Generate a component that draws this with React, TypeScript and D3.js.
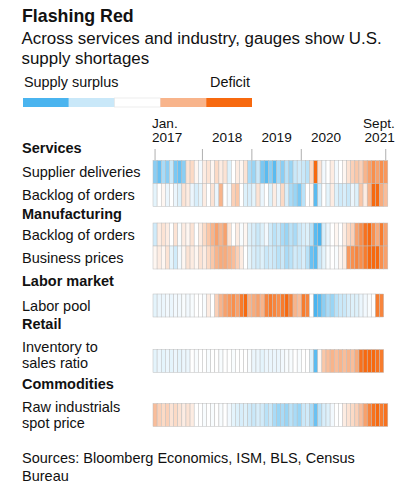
import React, { useEffect, useRef } from "react";
import * as d3 from "d3";

// monthly readings, Jan 2017 .. Sept 2021 (labor pool and inventories end Aug 2021)
const supplierDeliveries = [
  -1.2, -1.4, -1.0, -1.2, -0.8, -1.3, -1.4, -1.2,
  0.3, 0.4, 0.1, -0.2, 0.2, 0.3, 0.1, 0.4, 0.2, 0.3,
  -0.5, 0, 0.2, 0.1, 0.3,
  -1.0, -1.1, -0.8, -1.3, -1.5, -1.2, -1.5, -1.0, -1.2, -0.9, -1.1, -0.8, -0.7, -0.8, -0.9,
  0.4, 2.0,
  0.3, -0.2, 0, 0.2, -0.2, 0, 0.1,
  0.3, 0.5, 0.6, 0.5, 0.8, 1.0, 1.2, 1.0, 1.2, 1.1,
];
const servicesBacklog = [
  -0.4, 0, 0.1, -0.3, 0, -0.3, -0.5, 0.3, 0.2, -0.3, -0.6, -0.4, 0.2, 0, 0.3, -0.3, 0.8,
  0, -0.2, 0.5, 0.6, 0, -0.5, -0.6, -0.4, 0.3, -0.3, 0, -0.5, 0.2, -0.3, 0.4, -0.6,
  -1.0, -1.1, -1.3, -0.9, 0, 0.1, -1.5, -0.6, 0, -0.4, 0.2, -0.5, -0.7, -0.6, -0.8,
  -0.3, -0.5, 0.6, 0.2, 0.8, 1.8, 1.6, 0.9, 0.7,
];
const mfgBacklog = [
  -0.7, 0.2, 0.3, 0.2, 0, 0.3, -0.1, 0.2, 0.1, 0.3, 0, 0.2, 0.4, 0.6, 0.8, 1.0, 0.8, 1.0,
  0.3, 0, 0.2, -0.1, 0.1, -0.5, -0.6, -0.8, -0.5, -0.2, -0.7, -0.9, -0.8, -1.0, -1.1,
  -0.9, -1.0, -0.8, -0.6, -0.5, -0.9, -1.5, -1.6, -0.6, -0.3, 0, 0.1, 0, 0.2, 0.4, 0.5,
  1.0, 1.2, 1.5, 1.8, 1.2, 0.9, 1.4, 1.0,
];
const businessPrices = [
  0.1, 0.2, 0.1, 0.3, -0.4, -0.7, -0.2, 0.1, 0.3, 0.2, 0.1, 0.3, 0.2, 0.4, 0.6, 0.8, 0.9,
  0.9, 0.8, 0.7, 0.5, 0.2, 0, -0.4, -0.6, -0.7, -0.5, -0.8, -0.7, -0.8, -0.9, -0.8, -1.0,
  -0.9, -0.7, -0.8, -0.6, -0.9, -1.4, -1.5, -0.8, -0.4, -0.1, 0, -0.1, 0.1, 0.2, 1.1, 1.2,
  1.3, 1.2, 1.4, 1.6, 1.7, 1.6, 1.2, 1.0,
];
const laborPool = [
  -0.4, -0.3, -0.3, -0.2, -0.3, -0.2, -0.2, -0.1, -0.2, -0.1, 0, 0, -0.1, 0.2, 0, 0.5,
  0.8, 1.0, 1.1, 1.2, 1.0, 1.4, 1.8, 0.8, 0.9, 1.0, 0.8, 1.3, 1.4, 1.3, 1.2, 1.4, 1.6,
  1.3, 0.8, 0.7, 1.4, 1.3, 0, -1.7, -1.5, -1.2, -1.0, -1.1, -0.9, -0.8, -0.8, -0.6, -0.5,
  -0.5, -0.3, -0.2, -0.1, 0, 1.4, 1.3,
];
const inventorySales = [
  -0.4, -0.3, -0.4, -0.3, -0.4, -0.3, -0.4, -0.3, -0.3,
  0, -0.1, 0, 0, -0.1, 0, 0, -0.1, 0, 0, -0.1, 0, 0, 0, -0.1,
  -0.3, -0.3, -0.4, -0.3, -0.3, -0.3, -0.3, -0.2, -0.1, -0.1, 0, -0.1, 0, 0,
  -0.5, -1.5, 0.1,
  0.6, 0.7, 0.8, 0.7, 0.8, 0.7, 0.8, 0.7, 0.9,
  1.5, 1.6, 1.7, 1.6, 1.5, 1.4,
];
const rawIndustrials = [
  0.7, 0.5, 0.4, 0.5, 0.3, 0.4, 0.3, 0.2, 0.3, 0.2, 0, 0, -0.1, 0, -0.1, 0, -0.1, 0, -0.2,
  -0.4, -0.5, -0.6, -0.5, -0.7, -0.8, -0.6, -0.7, -0.9, -0.8, -1.0, -1.1, -1.0, -1.1,
  -0.9, -1.0, -1.1, -0.8, -0.7, -1.0, -1.4, -0.9, -0.6, -0.5, -0.2, 0, 0, 0.2, 0.3, 0.4,
  0.5, 0.7, 1.0, 1.3, 1.5, 1.6, 1.4, 1.5,
];

const legendColors = ["#4ab4ef", "#c9e8f9", "#ffffff", "#f8b48b", "#f7690f"];
const legendStops = [-1.6, -0.8, 0, 0.8, 1.6];

const months = d3.timeMonths(new Date(2017, 0, 1), new Date(2021, 9, 1));
const yearTicks = [
  { m: 0, lines: ["Jan.", "2017"], align: "start" },
  { m: 12, lines: ["2018"], align: "middle" },
  { m: 24, lines: ["2019"], align: "middle" },
  { m: 36, lines: ["2020"], align: "middle" },
  { m: 56, lines: ["Sept.", "2021"], align: "end" },
];

const sections = [
  {
    title: "Services",
    titleY: 153,
    rows: [
      { label: ["Supplier deliveries"], values: supplierDeliveries, top: 160.5, shift: 0 },
      { label: ["Backlog of orders"], values: servicesBacklog, top: 183.5, shift: 0 },
    ],
  },
  {
    title: "Manufacturing",
    titleY: 219,
    rows: [
      { label: ["Backlog of orders"], values: mfgBacklog, top: 223, shift: 0 },
      { label: ["Business prices"], values: businessPrices, top: 246, shift: 0 },
    ],
  },
  {
    title: "Labor market",
    titleY: 286,
    rows: [{ label: ["Labor pool"], values: laborPool, top: 294, shift: 0 }],
  },
  {
    title: "Retail",
    titleY: 329,
    rows: [{ label: ["Inventory to", "sales ratio"], values: inventorySales, top: 349.5, shift: -6 }],
  },
  {
    title: "Commodities",
    titleY: 389,
    rows: [{ label: ["Raw industrials", "spot price"], values: rawIndustrials, top: 403.5, shift: 0 }],
  },
];

const W = 416;
const H = 500;
const FONT = "'Liberation Sans', Arial, Helvetica, sans-serif";
const INK = "#111";

export default function App() {
  const ref = useRef<SVGSVGElement>(null);

  useEffect(() => {
    document.body.style.margin = "0";
    const svg = d3.select(ref.current);
    svg.selectAll("*").remove();
    svg.attr("font-family", FONT).attr("fill", INK);

    svg.append("rect").attr("width", W).attr("height", H).attr("fill", "#fff");

    svg.append("text").attr("x", 22).attr("y", 22)
      .attr("font-size", 17.8).attr("font-weight", 700).text("Flashing Red");
    svg.append("g").selectAll("text")
      .data(["Across services and industry, gauges show U.S.", "supply shortages"])
      .join("text")
      .attr("x", 21.5).attr("y", (d, i) => 44 + i * 19.5)
      .attr("font-size", 16.9).text(d => d);

    // legend
    const lx = d3.scaleBand<number>().domain(d3.range(legendColors.length)).range([23, 252]);
    svg.append("g").selectAll("rect")
      .data(legendColors)
      .join("rect")
      .attr("x", (d, i) => lx(i)!).attr("y", 98)
      .attr("width", lx.bandwidth()).attr("height", 9)
      .attr("fill", d => d)
      .attr("stroke", d => (d === "#ffffff" ? "#e2e2e2" : "none"))
      .attr("stroke-width", 0.6);
    svg.append("text").attr("x", 24).attr("y", 87).attr("font-size", 14.4).text("Supply surplus");
    svg.append("text").attr("x", 250).attr("y", 87).attr("font-size", 14.4)
      .attr("text-anchor", "end").text("Deficit");

    const color = d3.scaleLinear<string>()
      .domain(legendStops).range(legendColors)
      .interpolate(d3.interpolateRgb).clamp(true);

    const x = d3.scaleBand<number>().domain(d3.range(months.length)).range([153, 387.8]);
    const bw = x.bandwidth();
    const rowH = 23;

    // time axis
    const axis = svg.append("g").attr("font-size", 13.6);
    yearTicks.forEach(t => {
      const edge = t.align === "middle" ? x(t.m)! : x(t.m)! + bw / 2;
      axis.append("line")
        .attr("x1", edge).attr("x2", edge).attr("y1", 149).attr("y2", 160.5)
        .attr("stroke", "#9a9a9a").attr("stroke-width", 0.8);
      const tx = t.align === "start" ? x(t.m)! - 1 : t.align === "end" ? x(t.m)! + bw + 7 : x(t.m)! + 6 * bw;
      t.lines.forEach((line, i) => {
        axis.append("text")
          .attr("x", tx).attr("y", 142 - (t.lines.length - 1 - i) * 14.5)
          .attr("text-anchor", t.align).text(line);
      });
    });

    // sections with their heat strips
    sections.forEach(sec => {
      svg.append("text").attr("x", 22).attr("y", sec.titleY)
        .attr("font-size", 14.5).attr("font-weight", 700).text(sec.title);
      sec.rows.forEach(row => {
        const g = svg.append("g");
        const mid = row.top + rowH / 2 + row.shift;
        row.label.forEach((line, i) => {
          g.append("text")
            .attr("x", 22)
            .attr("y", mid + 5 + (i - (row.label.length - 1) / 2) * 15.5)
            .attr("font-size", 14.5).text(line);
        });
        g.selectAll("rect.cell")
          .data(row.values)
          .join("rect")
          .attr("class", "cell")
          .attr("x", (d, i) => x(i)!).attr("y", row.top)
          .attr("width", bw).attr("height", rowH)
          .attr("fill", d => color(d))
          .attr("stroke", "#bdbdbd").attr("stroke-width", 0.5);
      });
    });

    svg.append("g").selectAll("text")
      .data(["Sources: Bloomberg Economics, ISM, BLS, Census", "Bureau"])
      .join("text")
      .attr("x", 22).attr("y", (d, i) => 463 + i * 18)
      .attr("font-size", 14.5).text(d => d);
  }, []);

  return <svg ref={ref} width={W} height={H} style={{ display: "block" }} />;
}
